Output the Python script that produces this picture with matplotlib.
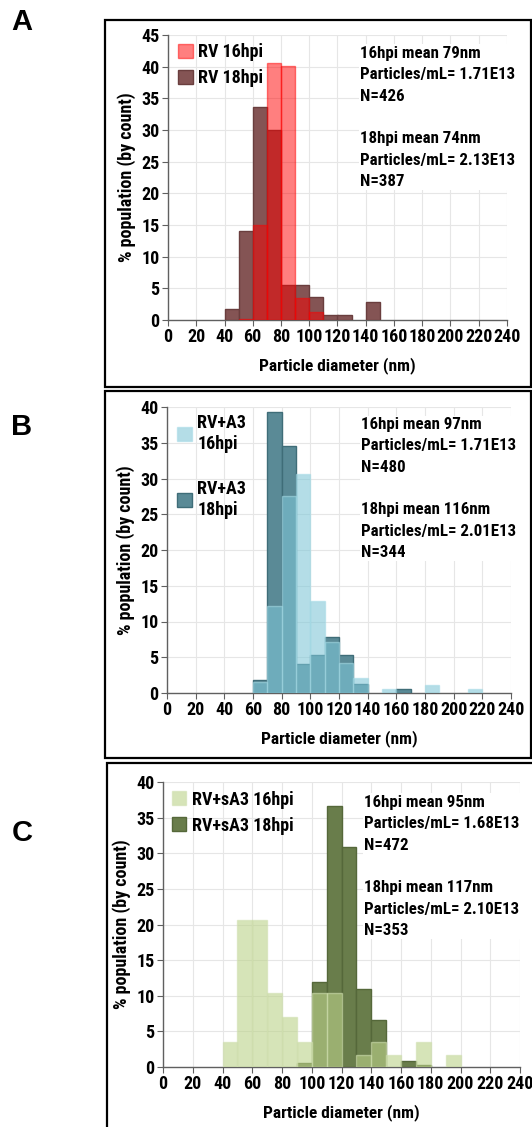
import matplotlib
matplotlib.use('Agg')
import matplotlib.pyplot as plt
import numpy as np
from matplotlib import font_manager as fm
from matplotlib.patches import Patch, Rectangle

# look for a condensed sans (the original uses Arial Narrow-like text)
cond = [f.name for f in fm.fontManager.ttflist
        if f.stretch in ('condensed', 'semi-condensed', 'extra-condensed')]
pref = ['Liberation Sans Narrow', 'Roboto Condensed', 'Open Sans Condensed',
        'Noto Sans', 'Roboto', 'Open Sans']
narrow = next((p for p in pref if p in cond), cond[0] if cond else None)
if narrow:
    plt.rcParams['font.family'] = [narrow, 'Liberation Sans', 'DejaVu Sans']
    plt.rcParams['font.stretch'] = 'condensed'
    sc = 1.0
else:
    plt.rcParams['font.family'] = ['Liberation Sans', 'DejaVu Sans']
    sc = 0.84
plt.rcParams['font.weight'] = 'bold'
plt.rcParams['axes.labelweight'] = 'bold'

# bin left edges (nm), 10 nm bins
bin_left = [0, 10, 20, 30, 40, 50, 60, 70, 80, 90, 100, 110,
            120, 130, 140, 150, 160, 170, 180, 190, 200, 210, 220, 230]

# panel A: RV
rv16 = [0, 0, 0, 0, 0, 0.2, 15.0, 40.6, 40.1, 3.4, 1.2, 0,
        0, 0, 0, 0, 0, 0, 0, 0, 0, 0, 0, 0]
rv18 = [0, 0, 0, 0, 1.8, 14.0, 33.7, 30.0, 5.5, 5.5, 3.7, 0.8,
        0.8, 0, 2.8, 0, 0, 0, 0, 0, 0, 0, 0, 0]
# panel B: RV+A3
a3_16 = [0, 0, 0, 0, 0, 0, 1.5, 12.2, 27.5, 30.6, 12.8, 7.2,
         4.2, 2.1, 0, 0.5, 0, 0, 1.1, 0, 0, 0.5, 0, 0]
a3_18 = [0, 0, 0, 0, 0, 0, 1.8, 39.3, 34.5, 4.1, 5.3, 7.8,
         5.3, 1.2, 0, 0, 0.6, 0, 0, 0, 0, 0, 0, 0]
# panel C: RV+sA3
sa3_16 = [0, 0, 0, 0, 3.5, 20.7, 20.7, 10.4, 7.0, 3.5, 10.4, 10.4,
          0, 1.7, 3.5, 1.7, 0, 3.5, 0, 1.7, 0, 0, 0, 0]
sa3_18 = [0, 0, 0, 0, 0, 0, 0, 0, 0, 0.6, 11.9, 36.6,
          30.9, 11.0, 6.6, 0, 0.9, 0.3, 0, 0, 0, 0, 0, 0]

xticks = [0, 20, 40, 60, 80, 100, 120, 140, 160, 180, 200, 220, 240]

texts = {
    'A': "16hpi mean 79nm\nParticles/mL= 1.71E13\nN=426\n\n18hpi mean 74nm\nParticles/mL= 2.13E13\nN=387",
    'B': "16hpi mean 97nm\nParticles/mL= 1.71E13\nN=480\n\n18hpi mean 116nm\nParticles/mL= 2.01E13\nN=344",
    'C': "16hpi mean 95nm\nParticles/mL= 1.68E13\nN=472\n\n18hpi mean 117nm\nParticles/mL= 2.10E13\nN=353",
}

W, H = 532, 1127
fig = plt.figure(figsize=(W / 100, H / 100), dpi=100)

fs_txt = 12.2 * sc
fs_leg = 13 * sc
line_px = 21.5
ls_txt = line_px / (0.83 * fs_txt * 100 / 72)


def px_axes(left, right, top, bottom):
    return fig.add_axes([left / W, 1 - bottom / H, (right - left) / W, (bottom - top) / H])


def draw_bars(ax, vals, face, edge, alpha):
    x = [b for b, v in zip(bin_left, vals) if v > 0]
    h = [v for v in vals if v > 0]
    ax.bar(x, h, width=10, align='edge', color=face, alpha=alpha,
           edgecolor=edge, linewidth=1.0, zorder=3)


def style(ax, ymax, ystep):
    ax.set_xlim(0, 240)
    ax.set_ylim(0, ymax)
    ax.set_xticks(xticks)
    ax.set_yticks(np.arange(0, ymax + 1, ystep))
    ax.grid(True, color='#e6e6e6', linewidth=0.8, zorder=0)
    ax.set_axisbelow(True)
    for s in ['top', 'right']:
        ax.spines[s].set_visible(False)
    for s in ['left', 'bottom']:
        ax.spines[s].set_color('#606060')
        ax.spines[s].set_linewidth(1.0)
    ax.tick_params(axis='both', labelsize=13 * sc, length=4, color='#606060', pad=2)
    ax.set_xlabel('Particle diameter (nm)', fontsize=12.5 * sc, labelpad=8)
    ax.set_ylabel('% population (by count)', fontsize=13 * sc, labelpad=4)


def annot(ax, key, x, y):
    ax.text(x, y, texts[key], transform=ax.transAxes, ha='left', va='top',
            fontsize=fs_txt, linespacing=ls_txt, zorder=5,
            bbox=dict(facecolor='white', edgecolor='none', pad=1))


def legend(ax, handles, labels, anchor, lsp):
    ax.legend(handles=handles, labels=labels, loc='upper left',
              bbox_to_anchor=anchor, frameon=False, fontsize=fs_leg,
              handlelength=0.8, handleheight=0.8, handletextpad=0.3,
              borderpad=0, borderaxespad=0, labelspacing=lsp)


# ---- panel A
axA = px_axes(168, 507, 35, 320)
draw_bars(axA, rv18, '#845454', '#6a3e3e', 1.0)
draw_bars(axA, rv16, '#ff0000', '#ff0000', 0.5)
style(axA, 45, 5)
annot(axA, 'A', 0.566, 0.962)
legend(axA, [Patch(facecolor='#ff0000', alpha=0.5, edgecolor='#ff0000'),
             Patch(facecolor='#845454', edgecolor='#6a3e3e')],
       ['RV 16hpi', 'RV 18hpi'], (0.03, 0.972), 0.45)

# ---- panel B
axB = px_axes(167, 511, 407, 693)
draw_bars(axB, a3_18, '#5a8a96', '#3f6d78', 1.0)
draw_bars(axB, a3_16, '#7ec6d7', '#a6dbe6', 0.58)
style(axB, 40, 5)
annot(axB, 'B', 0.564, 0.965)
legend(axB, [Patch(facecolor='#7ec6d7', alpha=0.58, edgecolor='#a6dbe6'),
             Patch(facecolor='#5a8a96', edgecolor='#3f6d78')],
       ['RV+A3\n16hpi', 'RV+A3\n18hpi'], (0.03, 0.975), 1.5)

# ---- panel C
axC = px_axes(163, 520, 782, 1067)
draw_bars(axC, sa3_18, '#697d4b', '#55683a', 1.0)
draw_bars(axC, sa3_16, '#bcd28a', '#d0e0b0', 0.6)
style(axC, 40, 5)
annot(axC, 'C', 0.563, 0.955)
legend(axC, [Patch(facecolor='#bcd28a', alpha=0.6, edgecolor='#d0e0b0'),
             Patch(facecolor='#697d4b', edgecolor='#55683a')],
       ['RV+sA3 16hpi', 'RV+sA3 18hpi'], (0.025, 0.97), 0.45)

# panel frames and letters
for (x0, y0, x1, y1) in [(105, 20, 531, 387), (105, 391, 531, 758), (107, 763, 534, 1130)]:
    fig.patches.append(Rectangle((x0 / W, 1 - y1 / H), (x1 - x0) / W, (y1 - y0) / H,
                                 transform=fig.transFigure, fill=False,
                                 edgecolor='black', linewidth=1.6))

for lab, yc in [('A', 22), ('B', 427), ('C', 833)]:
    fig.text(22 / W, 1 - yc / H, lab, ha='center', va='center', fontsize=21,
             fontweight='bold', family=['Liberation Sans', 'DejaVu Sans'],
             stretch='normal')

fig.savefig('out.png', dpi=100)
